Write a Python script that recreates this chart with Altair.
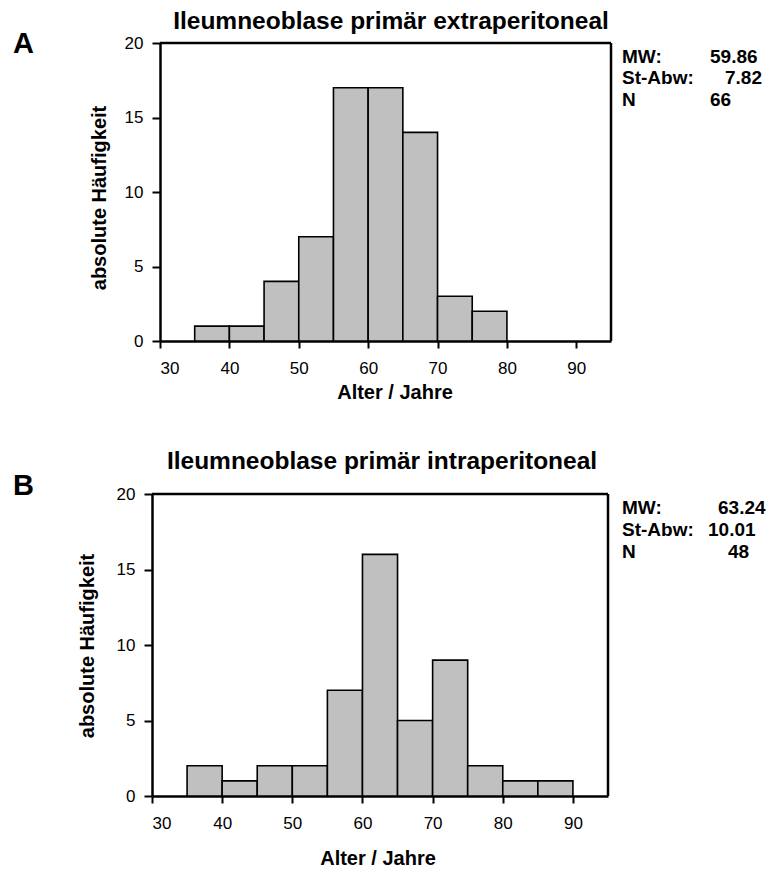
import altair as alt
import pandas as pd

# Age histograms (5-year bins) for two patient groups
bin_width = 5

starts_a = [35, 40, 45, 50, 55, 60, 65, 70, 75]
counts_a = [1, 1, 4, 7, 17, 17, 14, 3, 2]

starts_b = [35, 40, 45, 50, 55, 60, 65, 70, 75, 80, 85]
counts_b = [2, 1, 2, 2, 7, 16, 5, 9, 2, 1, 1]

title_a = "Ileumneoblase primär extraperitoneal"
title_b = "Ileumneoblase primär intraperitoneal"

stats_labels = ["MW:", "St-Abw:", "N"]
stats_a = ["59.86", "7.82", "66"]
stats_b = ["63.24", "10.01", "48"]

x_ticks = [30, 40, 50, 60, 70, 80, 90]
y_ticks = [0, 5, 10, 15, 20]

FONT = "Liberation Sans"


def text(label, x, y, size, bold=True, align="left", angle=None):
    kw = dict(text=label, font=FONT, fontSize=size, align=align,
              baseline="alphabetic", fontWeight="bold" if bold else "normal",
              color="black")
    if angle is not None:
        kw["angle"] = angle
    return alt.Chart().mark_text(**kw).encode(x=alt.value(x), y=alt.value(y))


def rule(x, x2, y, y2):
    return alt.Chart().mark_rule(color="black", strokeWidth=2.5).encode(
        x=alt.value(x), x2=alt.value(x2), y=alt.value(y), y2=alt.value(y2))


def panel(starts, counts, W, H, left, letter_pos, letter, title_pos, title,
          stats_pos, stats, xtitle_pos, ytitle_pos):
    # `left` is the inset of the plot frame inside the group
    df = pd.DataFrame({
        "start": starts,
        "end": [s + bin_width for s in starts],
        "count": counts,
    })
    bars = alt.Chart(df).mark_rect(
        fill="#c0c0c0", stroke="black", strokeWidth=1.6
    ).encode(
        x=alt.X("start:Q",
                scale=alt.Scale(domain=[30, 95], nice=False, zero=False,
                                range=[left, W]),
                axis=alt.Axis(values=x_ticks, title=None, grid=False,
                              tickSize=7, labelPadding=12)),
        x2="end:Q",
        y=alt.Y("count:Q",
                scale=alt.Scale(domain=[0, 20], nice=False),
                axis=alt.Axis(values=y_ticks, title=None, grid=False,
                              tickSize=8, labelPadding=9, offset=-left)),
    )
    layers = [bars,
              rule(left, W, 0, 0),       # top edge of frame
              rule(W, W, 0, H)]          # right edge of frame
    layers.append(text(letter, left + letter_pos[0], letter_pos[1], 29))
    layers.append(text(title, left + title_pos[0], title_pos[1], 24.5,
                       align="center"))
    lx, vx, ys = stats_pos
    for lab, yy in zip(stats_labels, ys):
        layers.append(text(lab, left + lx, yy, 19))
    for val, vxx, yy in zip(stats, vx, ys):
        layers.append(text(val, left + vxx, yy, 19))
    layers.append(text("Alter / Jahre", left + xtitle_pos[0],
                       H + xtitle_pos[1], 20, align="center"))
    layers.append(text("absolute Häufigkeit", left + ytitle_pos[0],
                       ytitle_pos[1], 20, align="center", angle=270))
    return alt.layer(*layers).properties(width=W, height=H)


chart_a = panel(
    starts_a, counts_a, 459, 298, 8,
    (-147, 10), "A",
    (231, -14), title_a,
    (462, [550, 565, 550], [20, 41, 63]), stats_a,
    (235, 58), (-54, 155),
)

chart_b = panel(
    starts_b, counts_b, 456, 302, 0,
    (-139, 1), "B",
    (230, -25), title_b,
    (470, [566, 556, 576], [20, 42, 64]), stats_b,
    (226, 69), (-58, 152),
)

chart = alt.vconcat(chart_a, chart_b, spacing=46).properties(
    padding={"left": 13, "top": 9, "right": 5, "bottom": 0}
).configure(
    background="white"
).configure_view(
    strokeWidth=0
).configure_axis(
    domainColor="black", domainWidth=2.5, tickColor="black", tickWidth=2,
    labelFont=FONT, labelFontSize=17, labelColor="black",
)

chart.save("out.html", embed_options={"renderer": "svg", "actions": False})
